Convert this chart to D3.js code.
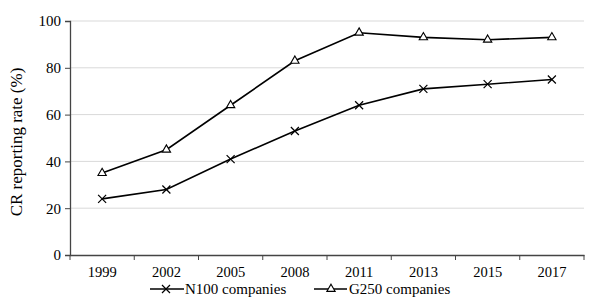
<!DOCTYPE html>
<html>
<head>
<meta charset="utf-8">
<script src="https://cdn.jsdelivr.net/npm/d3@7"></script>
<style>
  body { margin: 0; background: #fff; }
  text { font-family: "Liberation Serif", "Times New Roman", serif; fill: #000; }
</style>
</head>
<body>
<div class="linechart"></div>
<script>
// data
const years = ["1999", "2002", "2005", "2008", "2011", "2013", "2015", "2017"];
const n100 = [24, 28, 41, 53, 64, 71, 73, 75];
const g250 = [35, 45, 64, 83, 95, 93, 92, 93];
const yTicks = [0, 20, 40, 60, 80, 100];

const margin = {top: 21, right: 12, bottom: 51, left: 70},
  width = 596 - margin.left - margin.right,
  height = 306 - margin.top - margin.bottom;

const x = d3.scaleBand().domain(years).range([0, width]);
const y = d3.scaleLinear().domain([0, 100]).range([height, 0]);

const svg = d3.select(".linechart").append("svg")
    .attr("width", 596)
    .attr("height", 306)
  .append("g")
    .attr("transform", "translate(" + margin.left + "," + margin.top + ")");

// gridlines
svg.append("g")
  .selectAll("line")
  .data(yTicks.filter(d => d > 0))
  .enter().append("line")
    .attr("x1", 0).attr("x2", width)
    .attr("y1", d => y(d)).attr("y2", d => y(d))
    .attr("stroke", "#d9d9d9").attr("stroke-width", 1);

// y axis
const yAxis = svg.append("g")
  .call(d3.axisLeft(y).tickValues(yTicks).tickSize(5).tickPadding(4));
yAxis.select(".domain").attr("stroke", "#444").attr("stroke-width", 1.3);
yAxis.selectAll(".tick line").attr("stroke", "#444");
yAxis.selectAll("text").style("font-size", "15px");

// x axis, ticks sit between categories
const xAxis = svg.append("g")
  .attr("transform", "translate(0," + height + ")")
  .call(d3.axisBottom(x).tickSize(0).tickPadding(12));
xAxis.select(".domain").attr("stroke", "#444").attr("stroke-width", 1.3);
xAxis.selectAll("text").style("font-size", "14.5px");
xAxis.append("g")
  .selectAll("line")
  .data(years.concat(["end"]))
  .enter().append("line")
    .attr("x1", (d, i) => i * x.step()).attr("x2", (d, i) => i * x.step())
    .attr("y1", 0).attr("y2", 5)
    .attr("stroke", "#444");

// y title
svg.append("text")
  .attr("transform", "translate(-48," + (height / 2 + 4) + ") rotate(-90)")
  .attr("text-anchor", "middle")
  .style("font-size", "17px")
  .text("CR reporting rate (%)");

const cx = (d, i) => x(years[i]) + x.bandwidth() / 2;
const line = d3.line()
  .x(cx)
  .y(d => y(d));

const tri = d3.symbol().type(d3.symbolTriangle).size(30);

function drawCross(g, px, py, r) {
  g.append("path")
    .attr("d", `M${px - r},${py - r}L${px + r},${py + r}M${px - r},${py + r}L${px + r},${py - r}`)
    .attr("stroke", "#000").attr("stroke-width", 1.2).attr("fill", "none");
}
function drawTri(g, px, py) {
  g.append("path")
    .attr("d", tri())
    .attr("transform", `translate(${px},${py})`)
    .attr("stroke", "#000").attr("stroke-width", 1.1).attr("fill", "#fff");
}

[n100, g250].forEach(s => {
  svg.append("path")
    .datum(s)
    .attr("d", line)
    .attr("fill", "none")
    .attr("stroke", "#000")
    .attr("stroke-width", 1.6);
});

const marks = svg.append("g");
n100.forEach((d, i) => drawCross(marks, cx(d, i), y(d), 4));
g250.forEach((d, i) => drawTri(marks, cx(d, i), y(d)));

// legend
const leg = d3.select("svg").append("g");
const legY = 289;
leg.append("line").attr("x1", 150).attr("x2", 184).attr("y1", legY).attr("y2", legY)
  .attr("stroke", "#000").attr("stroke-width", 1.6);
drawCross(leg, 166, legY, 4);
leg.append("text").attr("x", 185).attr("y", legY + 5).style("font-size", "15px").text("N100 companies");
leg.append("line").attr("x1", 314).attr("x2", 347).attr("y1", legY).attr("y2", legY)
  .attr("stroke", "#000").attr("stroke-width", 1.6);
drawTri(leg, 331, legY);
leg.append("text").attr("x", 349).attr("y", legY + 5).style("font-size", "15px").text("G250 companies");
</script>
</body>
</html>
